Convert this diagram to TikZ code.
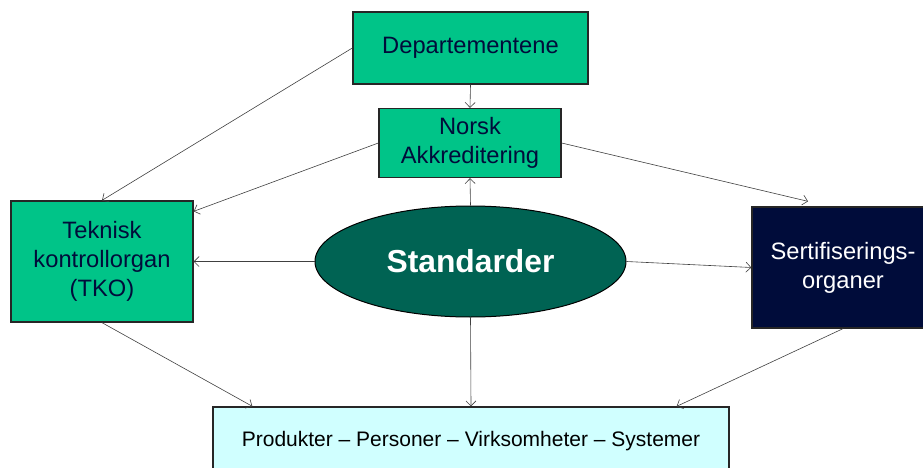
\documentclass[tikz,border=0pt]{standalone}
\usepackage{fontspec}
\setmainfont{Liberation Sans}
\usetikzlibrary{arrows.meta,shapes.geometric}

\definecolor{boxgreen}{RGB}{0,196,136}
\definecolor{stdgreen}{RGB}{0,99,83}
\definecolor{navy}{RGB}{0,12,58}
\definecolor{lightcyan}{RGB}{208,255,255}
\definecolor{linegray}{RGB}{64,64,64}

\tikzset{
  orgbox/.style={draw=black!85, line width=1.3pt, fill=boxgreen, text=navy,
    align=center, inner sep=0pt,
    font=\fontsize{23.7}{29}\selectfont},
  certbox/.style={orgbox, fill=navy, text=white},
  targetbox/.style={draw=black!85, line width=1.3pt, fill=lightcyan, text=black,
    align=center, inner sep=0pt, font=\fontsize{21}{25}\selectfont},
  stdellipse/.style={ellipse, draw=black, line width=1pt, fill=stdgreen,
    text=white, inner sep=0pt, font=\fontsize{31.8}{36}\selectfont\bfseries},
  link/.style={draw=linegray, line width=0.6pt,
    -{Straight Barb[length=5pt,width=10pt]}}
}

\begin{document}
\begin{tikzpicture}[x=1pt,y=-1pt]
\useasboundingbox (0,0) rectangle (923,468);

\node[orgbox, minimum width=235pt, minimum height=72pt] (dep) at (470.5,48) {Departementene};
\node[orgbox, minimum width=182pt, minimum height=69pt] (na) at (470,143) {Norsk\\Akkreditering};
\node[orgbox, minimum width=182pt, minimum height=121pt] (tko) at (102,261.5) {Teknisk\\kontrollorgan\\(TKO)};
\node[stdellipse, minimum width=311pt, minimum height=111pt] (std) at (470.5,261.5) {Standarder};
\node[certbox, minimum width=182pt, minimum height=121pt] (sert) at (843,267.5) {Sertifiserings-\\organer};
\node[targetbox, minimum width=516pt, minimum height=68pt] (prod) at (471,441)
  {Produkter – Personer – Virksomheter – Systemer};

\draw[link] (dep.south) -- (na.north);
\draw[link] (dep.west) -- (tko.north);
\draw[link] (na.west) -- ([yshift=-11pt]tko.north east);
\draw[link] (na.east) -- ([xshift=-35pt,yshift=5pt]sert.north);
\draw[link] (std.north) -- (na.south);
\draw[link] (std.west) -- (tko.east);
\draw[link] (std.east) -- (sert.west);
\draw[link] (std.south) -- (prod.north);
\draw[link] (tko.south) -- ([xshift=40pt]prod.north west);
\draw[link] (sert.south) -- ([xshift=-53pt]prod.north east);
\end{tikzpicture}
\end{document}
